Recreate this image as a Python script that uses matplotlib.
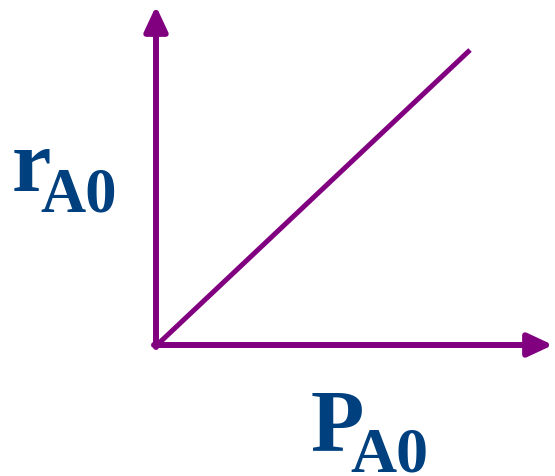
import matplotlib.pyplot as plt

# axis and line geometry in picture pixels (y grows downward)
origin = (156, 345)
y_axis_top = 6
x_axis_right = 553
line_x = [157, 470]
line_y = [345, 50]

purple = '#800080'
blue = '#00407f'

fig = plt.figure(figsize=(5.55, 4.76), dpi=100)
ax = fig.add_axes([0, 0, 1, 1])
ax.set_xlim(0, 555)
ax.set_ylim(476, 0)
ax.axis('off')

arrow = dict(arrowstyle='-|>,head_length=1.5,head_width=0.7', color=purple,
             lw=4.3, shrinkA=0, shrinkB=0)
ax.annotate('', xy=(origin[0], y_axis_top), xytext=(origin[0], origin[1] + 2),
            arrowprops=arrow)
ax.annotate('', xy=(x_axis_right, origin[1]), xytext=(origin[0] - 2, origin[1]),
            arrowprops=arrow)

ax.plot(line_x, line_y, color=purple, lw=3.6, solid_capstyle='butt')

font = dict(family='Liberation Serif', weight='bold', color=blue,
            ha='left', va='baseline')
ax.text(12, 191, 'r', fontsize=64, **font)
ax.text(40, 212, 'A0', fontsize=45, **font)
ax.text(311, 450, 'P', fontsize=63, **font)
ax.text(350, 471, 'A0', fontsize=46, **font)

fig.savefig('out.png', dpi=100)
